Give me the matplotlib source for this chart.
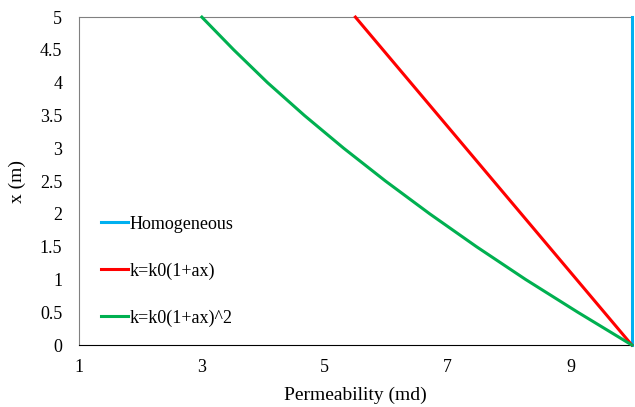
import matplotlib
matplotlib.use('Agg')
import matplotlib.pyplot as plt

# Datos
x_pos = [0, 0.5, 1, 1.5, 2, 2.5, 3, 3.5, 4, 4.5, 5]
k_homog = [10, 10, 10, 10, 10, 10, 10, 10, 10, 10, 10]
k_lineal = [10, 9.55, 9.1, 8.65, 8.2, 7.75, 7.3, 6.85, 6.4, 5.95, 5.5]
k_cuad = [10, 9.12, 8.27, 7.47, 6.71, 5.99, 5.31, 4.67, 4.07, 3.52, 3.0]

xticks = [1, 3, 5, 7, 9]
yticks = [0, 0.5, 1, 1.5, 2, 2.5, 3, 3.5, 4, 4.5, 5]
ytick_labels = ['0', '0.5', '1', '1.5', '2', '2.5', '3', '3.5', '4', '4.5', '5']

plt.rcParams['font.family'] = 'Liberation Serif'

fig = plt.figure(figsize=(6.35, 4.07), dpi=100)
ax = fig.add_axes([0.1244, 0.1523, 0.8706, 0.8057])

ax.plot(k_homog, x_pos, color='#00B0F0', lw=2.2, label='Homogeneous', clip_on=False, zorder=3)
ax.plot(k_lineal, x_pos, color='#FF0000', lw=2.2, label='k=k0(1+ax)', clip_on=False, zorder=3)
ax.plot(k_cuad, x_pos, color='#00B050', lw=2.2, label='k=k0(1+ax)^2', clip_on=False, zorder=3)

ax.set_xlim(1, 10)
ax.set_ylim(0, 5)
ax.set_xticks(xticks)
ax.set_yticks(yticks)
ax.set_yticklabels(ytick_labels)
ax.tick_params(length=0, labelsize=13)
ax.tick_params(axis='y', pad=12)
ax.tick_params(axis='x', pad=10)

for lado in ['left', 'top', 'right']:
    ax.spines[lado].set_color('#808080')
ax.spines['right'].set_visible(False)
ax.spines['bottom'].set_color('black')

ax.set_xlabel('Permeability (md)', fontsize=14, labelpad=8)
ax.set_ylabel('x (m)', fontsize=14, labelpad=10)

ax.legend(loc='lower left', bbox_to_anchor=(0.01, 0.006), frameon=False, fontsize=13,
          labelspacing=1.65, handlelength=1.5, handletextpad=0.1)

plt.savefig('out.png', dpi=100)
